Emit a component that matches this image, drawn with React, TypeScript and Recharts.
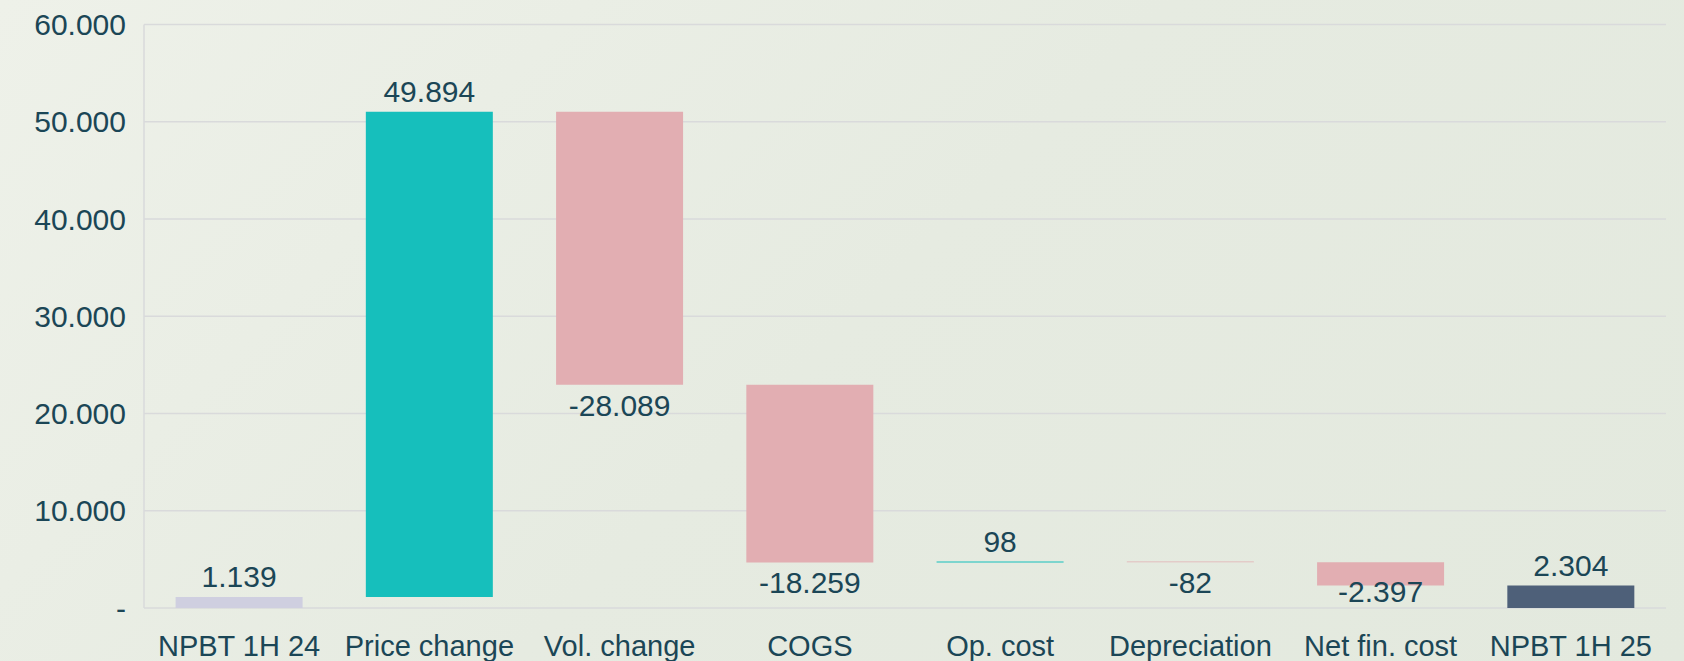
import React from 'react';
import { BarChart, Bar, XAxis, YAxis, CartesianGrid, Cell } from 'recharts';

const categories = [
  'NPBT 1H 24',
  'Price change',
  'Vol. change',
  'COGS',
  'Op. cost',
  'Depreciation',
  'Net fin. cost',
  'NPBT 1H 25',
];
// first and last entries are totals, the rest are changes
const amounts = [1139, 49894, -28089, -18259, 98, -82, -2397, 2304];
const isTotal = [true, false, false, false, false, false, false, true];
const yTicks = [0, 10000, 20000, 30000, 40000, 50000, 60000];

const TEXT = '#1b4656';
const GRID = '#d9dadb';
const FONT = "'Liberation Sans', Arial, sans-serif";

const colors = {
  start: '#cfcfe0',
  end: '#4e6079',
  up: '#16bfbc',
  down: '#e2aeb2',
};

// 60000 -> "60.000", 0 -> "-"
function fmt(v: number): string {
  const s = Math.abs(Math.round(v)).toString().replace(/\B(?=(\d{3})+(?!\d))/g, '.');
  return (v < 0 ? '-' : '') + s;
}

// Turn the amounts into invisible base + visible piece for a waterfall
function buildData() {
  let running = 0;
  return categories.map((name, i) => {
    const v = amounts[i];
    if (isTotal[i]) {
      running = v;
      return { name, base: 0, size: v };
    }
    const from = running;
    const to = running + v;
    running = to;
    return { name, base: Math.min(from, to), size: Math.abs(v) };
  });
}

function barColor(i: number): string {
  if (isTotal[i]) return i === 0 ? colors.start : colors.end;
  return amounts[i] >= 0 ? colors.up : colors.down;
}

const ValueLabel = (props: any) => {
  const { x, y, width, height, index } = props;
  const top = Math.min(y, y + height);
  const bottom = Math.max(y, y + height);
  const v = amounts[index];
  const cx = x + width / 2;
  const neg = v < 0 && !isTotal[index];
  // below the bar for negatives, clamped inside the plot like Excel does
  const baseline = neg ? Math.min(bottom + 31, 602) : top - 9.5;
  return (
    <text
      x={cx}
      y={baseline}
      textAnchor="middle"
      fill={TEXT}
      fontSize={30}
      fontFamily={FONT}
    >
      {fmt(v)}
    </text>
  );
};

export default function App() {
  const data = buildData();

  return (
    <div
      style={{
        position: 'fixed',
        left: 0,
        top: 0,
        width: 1684,
        height: 661,
        background: 'linear-gradient(135deg, #eef1e9 0%, #e6ebe1 50%, #e3e9de 100%)',
      }}
    >
      <BarChart
        width={1684}
        height={661}
        data={data}
        margin={{ top: 24.5, right: 18, left: 0, bottom: 0 }}
        barCategoryGap="16.6%"
      >
        <CartesianGrid vertical={false} stroke={GRID} strokeWidth={1.5} />
        <XAxis
          dataKey="name"
          height={53}
          axisLine={false}
          tickLine={false}
          tickSize={0}
          tickMargin={27}
          interval={0}
          tick={{ fill: TEXT, fontSize: 29, fontFamily: FONT }}
        />
        <YAxis
          width={144}
          domain={[0, 60000]}
          ticks={yTicks}
          tickFormatter={(v: number) => (v === 0 ? '-' : fmt(v))}
          axisLine={{ stroke: GRID, strokeWidth: 1.5 }}
          tickLine={false}
          tickSize={0}
          tickMargin={18}
          tick={{ fill: TEXT, fontSize: 30, fontFamily: FONT }}
        />
        <Bar dataKey="base" stackId="w" fill="transparent" isAnimationActive={false} />
        <Bar dataKey="size" stackId="w" isAnimationActive={false} label={ValueLabel}>
          {data.map((_, i) => (
            <Cell key={i} fill={barColor(i)} />
          ))}
        </Bar>
      </BarChart>
    </div>
  );
}
